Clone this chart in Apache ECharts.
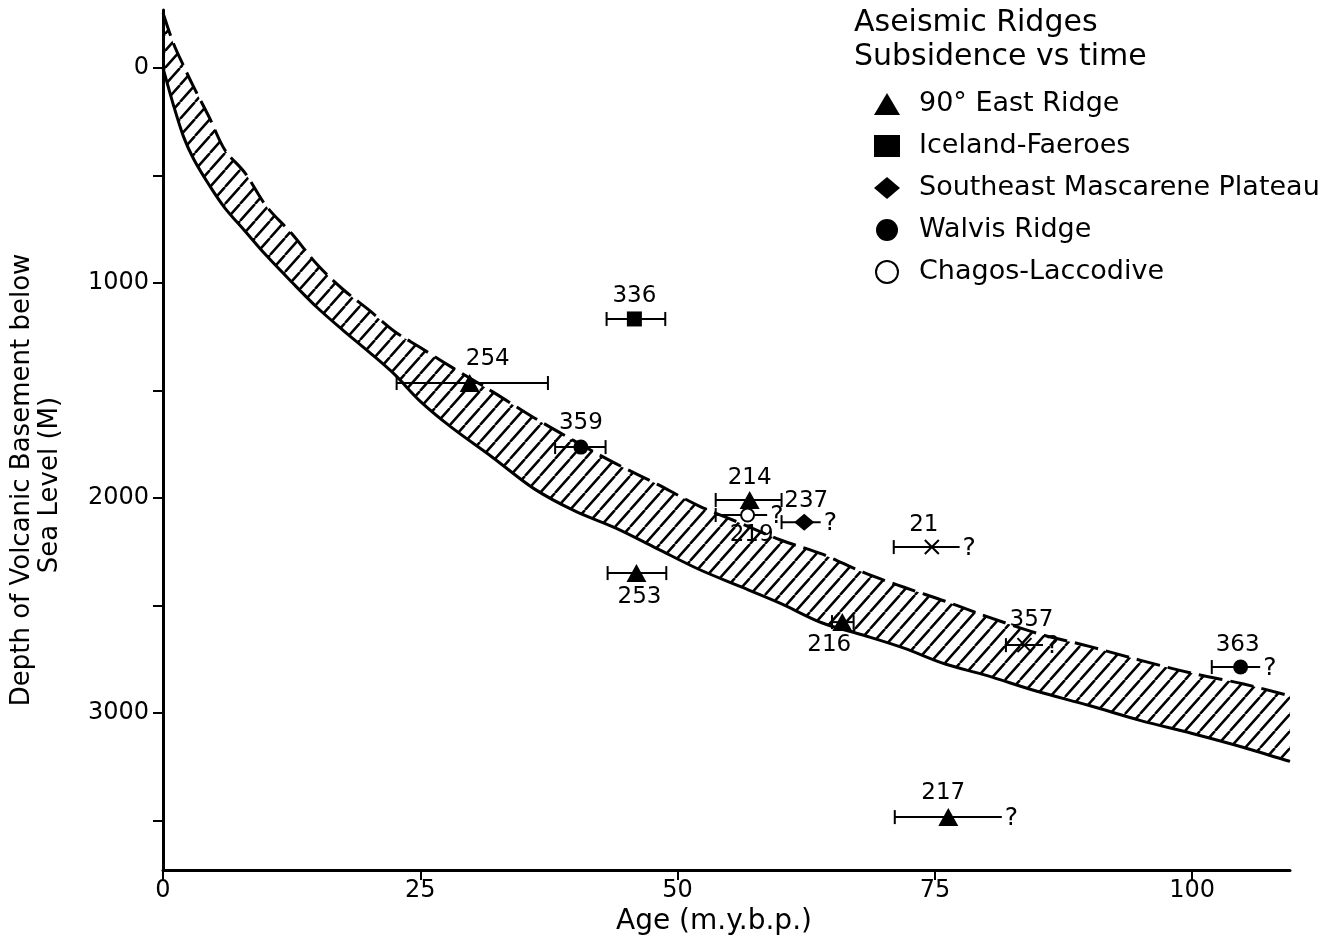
<!DOCTYPE html>
<html>
<head>
<meta charset="utf-8">
<script src="https://cdn.jsdelivr.net/npm/echarts@6/dist/echarts.min.js"></script>
<style>
  html, body { margin: 0; padding: 0; background: #fff; }
  #main { width: 1335px; height: 942px; }
</style>
</head>
<body>
<div id="main"></div>
<script>
// subsidence band (age in m.y., depth in m)
var bandAge = [0, 1, 2, 3, 4.5, 6, 8, 10, 12.5, 15, 17.5, 20, 22.5, 25, 28, 32, 36, 40, 44, 48,
  52, 56, 60, 64, 68, 72, 76, 80, 85, 90, 95, 100, 105, 109.5];
var bandTop = [-256, -116, -10, 90, 230, 380, 490, 640, 770, 915, 1030, 1125, 1225, 1300, 1390, 1505, 1625, 1735, 1840, 1935,
  2035, 2115, 2195, 2260, 2345, 2415, 2480, 2550, 2630, 2690, 2755, 2815, 2865, 2920];
var bandBottom = [0, 170, 320, 425, 545, 650, 760, 870, 995, 1115, 1220, 1320, 1425, 1550, 1670, 1810, 1955, 2060, 2140, 2235,
  2330, 2410, 2490, 2580, 2637, 2698, 2772, 2825, 2900, 2965, 3035, 3095, 3160, 3225];

// 90° East Ridge
var eastAge = [29.8, 46.0, 57.0, 66.0, 76.3];
var eastDepth = [1465, 2349, 2009, 2577, 3484];
var eastMin = [22.7, 43.2, 53.7, 65.0, 71.1];
var eastMax = [37.4, 48.9, 60.1, 67.1, 81.5];
var eastSite = ['254', '253', '214', '216', '217'];
var eastQuery = [0, 0, 0, 0, 1];
// Iceland-Faeroes
var icelandAge = [45.8];
var icelandDepth = [1167];
var icelandMin = [43.1];
var icelandMax = [48.8];
var icelandSite = ['336'];
var icelandQuery = [0];
// Southeast Mascarene Plateau
var mascAge = [62.3];
var mascDepth = [2112];
var mascMin = [60.1];
var mascMax = [63.9];
var mascSite = ['237'];
var mascQuery = [1];
// Walvis Ridge
var walvisAge = [40.6, 104.7];
var walvisDepth = [1763, 2786];
var walvisMin = [38.1, 101.9];
var walvisMax = [43.0, 106.6];
var walvisSite = ['359', '363'];
var walvisQuery = [0, 1];
// Chagos-Laccodive
var chagosAge = [56.8];
var chagosDepth = [2079];
var chagosMin = [53.7];
var chagosMax = [58.7];
var chagosSite = ['219'];
var chagosQuery = [1];
// other sites (x)
var otherAge = [74.7, 83.7];
var otherDepth = [2228, 2684];
var otherMin = [71.0, 81.9];
var otherMax = [77.4, 85.5];
var otherSite = ['21', '357'];
var otherQuery = [1, 1];

var xTicks = [0, 25, 50, 75, 100];
var yLabels = [0, 1000, 2000, 3000];
var yTicks = [0, 500, 1000, 1500, 2000, 2500, 3000, 3500];

// where each site number sits relative to its symbol
var labelShift = {
  '254': [18, -24], '253': [3, 24], '214': [0, -22], '216': [-13, 23], '217': [-5, -24],
  '336': [0, -23], '237': [2, -21], '359': [0, -24], '363': [-3, -22], '219': [4, 20],
  '21': [-8, -22], '357': [7, -25]
};

var FONT = '"DejaVu Sans", "Liberation Sans", sans-serif';

// hatch pattern for the band
var hatch = document.createElement('canvas');
hatch.width = 15; hatch.height = 17;
var hc = hatch.getContext('2d');
hc.strokeStyle = '#000';
hc.lineWidth = 2.5;
hc.beginPath();
hc.moveTo(-15, 17); hc.lineTo(0, 0);
hc.moveTo(0, 17); hc.lineTo(15, 0);
hc.moveTo(15, 17); hc.lineTo(30, 0);
hc.stroke();

// smooth path through pixel points (catmull-rom as cubic beziers)
function curve(p, start) {
  var d = start + p[0][0] + ',' + p[0][1];
  for (var i = 0; i < p.length - 1; i++) {
    var p0 = p[i - 1] || p[i], p1 = p[i], p2 = p[i + 1], p3 = p[i + 2] || p2;
    d += ' C' + (p1[0] + (p2[0] - p0[0]) / 6) + ',' + (p1[1] + (p2[1] - p0[1]) / 6) +
      ' ' + (p2[0] - (p3[0] - p1[0]) / 6) + ',' + (p2[1] - (p3[1] - p1[1]) / 6) +
      ' ' + p2[0] + ',' + p2[1];
  }
  return d;
}

function pts(ages, depths, sites) {
  return ages.map(function (a, i) {
    return {
      value: [a, depths[i]],
      site: sites[i],
      label: { offset: labelShift[sites[i]] }
    };
  });
}

var barRows = [];
function addBars(ages, depths, mins, maxs, q) {
  ages.forEach(function (a, i) {
    barRows.push([mins[i], maxs[i], depths[i], q[i]]);
  });
}
addBars(eastAge, eastDepth, eastMin, eastMax, eastQuery);
addBars(icelandAge, icelandDepth, icelandMin, icelandMax, icelandQuery);
addBars(mascAge, mascDepth, mascMin, mascMax, mascQuery);
addBars(walvisAge, walvisDepth, walvisMin, walvisMax, walvisQuery);
addBars(chagosAge, chagosDepth, chagosMin, chagosMax, chagosQuery);
addBars(otherAge, otherDepth, otherMin, otherMax, otherQuery);

var siteLabel = {
  show: true,
  position: 'inside',
  formatter: function (p) { return p.data.site; },
  color: '#000',
  opacity: 1,
  textBorderWidth: 0,
  fontFamily: FONT,
  fontSize: 23
};

function scatter(name, symbol, size, ages, depths, sites, style) {
  return {
    name: name,
    type: 'scatter',
    symbol: symbol,
    symbolSize: size,
    itemStyle: Object.assign({ color: '#000', opacity: 1 }, style || {}),
    label: siteLabel,
    emphasis: { disabled: true },
    z: 5,
    data: pts(ages, depths, sites)
  };
}

var chart = echarts.init(document.getElementById('main'));

var option = {
  backgroundColor: '#fff',
  animation: false,
  textStyle: { fontFamily: FONT, color: '#000' },
  title: {
    text: 'Aseismic Ridges\nSubsidence vs time',
    left: 849,
    top: 1,
    textStyle: { fontFamily: FONT, fontSize: 30, fontWeight: 'normal', lineHeight: 34, color: '#000' }
  },
  legend: {
    orient: 'vertical',
    left: 869,
    top: 85,
    itemWidth: 26,
    itemHeight: 22,
    itemGap: 14,
    textStyle: { fontFamily: FONT, fontSize: 27, lineHeight: 28, color: '#000', padding: [0, 0, 0, 14] },
    data: [
      { name: '90° East Ridge', icon: 'triangle' },
      { name: 'Iceland-Faeroes', icon: 'rect' },
      { name: 'Southeast Mascarene Plateau', icon: 'diamond' },
      { name: 'Walvis Ridge', icon: 'circle' },
      { name: 'Chagos-Laccodive', icon: 'emptyCircle' }
    ]
  },
  grid: { left: 163, right: 45, top: 10, bottom: 72 },
  xAxis: {
    type: 'value',
    min: 0,
    max: 109.5,
    axisLine: { onZero: false, lineStyle: { color: '#000', width: 3 } },
    axisTick: { customValues: xTicks, length: 10, lineStyle: { color: '#000', width: 2 } },
    axisLabel: { customValues: xTicks, margin: 9, fontFamily: FONT, fontSize: 24, color: '#000' },
    splitLine: { show: false }
  },
  yAxis: {
    type: 'value',
    inverse: true,
    min: -270,
    max: 3730,
    axisLine: { onZero: false, lineStyle: { color: '#000', width: 3 } },
    axisTick: { customValues: yTicks, length: 10, lineStyle: { color: '#000', width: 2 } },
    axisLabel: {
      customValues: yLabels, margin: 14, fontFamily: FONT, fontSize: 24, color: '#000',
      formatter: function (v) { return String(v); }
    },
    splitLine: { show: false }
  },
  graphic: [
    {
      type: 'text', x: 714, y: 922, z: 10,
      style: { text: 'Age (m.y.b.p.)', font: '28px ' + FONT, fill: '#000', textAlign: 'center', textVerticalAlign: 'middle' }
    },
    {
      type: 'text', x: 22, y: 480, rotation: Math.PI / 2, z: 10,
      style: { text: 'Depth of Volcanic Basement below', font: '26px ' + FONT, fill: '#000', textAlign: 'center', textVerticalAlign: 'middle' }
    },
    {
      type: 'text', x: 50, y: 485, rotation: Math.PI / 2, z: 10,
      style: { text: 'Sea Level (M)', font: '26px ' + FONT, fill: '#000', textAlign: 'center', textVerticalAlign: 'middle' }
    }
  ],
  series: [
    {
      name: 'band',
      type: 'custom',
      silent: true,
      z: 2,
      encode: { x: 0, y: [1, 2] },
      renderItem: function (params, api) {
        if (params.dataIndex !== 0) return null;
        var n = params.dataInsideLength;
        var top = [], bot = [];
        for (var i = 0; i < n; i++) {
          top.push(api.coord([bandAge[i], bandTop[i]]));
          bot.push(api.coord([bandAge[i], bandBottom[i]]));
        }
        var fillPath = curve(top, 'M') + ' ' + curve(bot.slice().reverse(), 'L') + ' Z';
        return {
          type: 'group',
          children: [
            { type: 'path', shape: { pathData: fillPath }, style: { fill: { image: hatch, repeat: 'repeat' }, stroke: null } },
            { type: 'path', shape: { pathData: curve(top, 'M') }, style: { fill: null, stroke: '#000', lineWidth: 3, lineDash: [24, 8] } },
            { type: 'path', shape: { pathData: curve(bot, 'M') }, style: { fill: null, stroke: '#000', lineWidth: 3 } }
          ]
        };
      },
      data: bandAge.map(function (a, i) { return [a, bandTop[i], bandBottom[i]]; })
    },
    {
      name: 'errors',
      type: 'custom',
      silent: true,
      z: 4,
      encode: { x: [0, 1], y: 2 },
      renderItem: function (params, api) {
        var a = api.coord([api.value(0), api.value(2)]);
        var b = api.coord([api.value(1), api.value(2)]);
        var q = api.value(3);
        var st = { stroke: '#000', lineWidth: 2 };
        var kids = [
          { type: 'line', shape: { x1: a[0], y1: a[1], x2: b[0], y2: b[1] }, style: st },
          { type: 'line', shape: { x1: a[0], y1: a[1] - 7, x2: a[0], y2: a[1] + 7 }, style: st }
        ];
        if (q) {
          kids.push({ type: 'text', style: { text: '?', x: b[0] + 3, y: a[1] + 1, font: '25px ' + FONT, fill: '#000', textVerticalAlign: 'middle' } });
        } else {
          kids.push({ type: 'line', shape: { x1: b[0], y1: b[1] - 7, x2: b[0], y2: b[1] + 7 }, style: st });
        }
        return { type: 'group', children: kids };
      },
      data: barRows
    },
    scatter('90° East Ridge', 'triangle', [20, 18], eastAge, eastDepth, eastSite),
    scatter('Iceland-Faeroes', 'rect', 15, icelandAge, icelandDepth, icelandSite),
    scatter('Southeast Mascarene Plateau', 'diamond', [20, 17], mascAge, mascDepth, mascSite),
    scatter('Walvis Ridge', 'circle', 15, walvisAge, walvisDepth, walvisSite),
    scatter('Chagos-Laccodive', 'emptyCircle', 13, chagosAge, chagosDepth, chagosSite,
      { borderColor: '#000', borderWidth: 2 }),
    scatter('other', 'path://M0,0L10,10M10,0L0,10', 14, otherAge, otherDepth, otherSite,
      { color: 'none', borderColor: '#000', borderWidth: 2 })
  ]
};

chart.setOption(option);
</script>
</body>
</html>
